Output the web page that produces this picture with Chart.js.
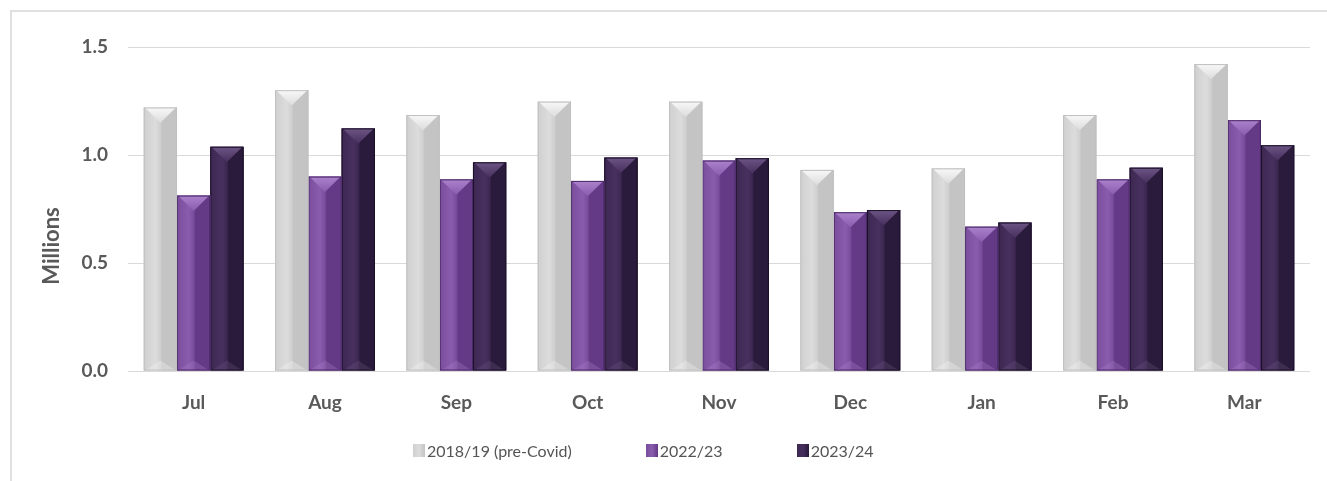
<!DOCTYPE html>
<html>
<head>
<meta charset="utf-8">
<script src="https://cdn.jsdelivr.net/npm/chart.js@4/dist/chart.umd.min.js"></script>
<style>
  html, body { margin: 0; padding: 0; background: #fff; }
  #wrap { position: relative; width: 1327px; height: 481px; overflow: hidden; }
  #frame {
    position: absolute; left: 10px; top: 10px; right: 0; bottom: 0;
    border-top: 2px solid #e0e0e0; border-left: 2px solid #e0e0e0;
  }
  #box { position: absolute; left: 0; top: 0; width: 1327px; height: 481px; }
  #legend {
    position: absolute; left: 413px; top: 441px; display: flex; gap: 74px;
    font-family: Lato, sans-serif; font-size: 16px; color: #555;
  }
  #legend .item { display: flex; align-items: center; }
  #legend .sw { width: 12px; height: 13px; margin-right: 2px; }
</style>
</head>
<body>
<div id="wrap">
  <div id="frame"></div>
  <div id="box"><canvas id="chart-trips"></canvas></div>
  <div id="legend"></div>
</div>
<script>
Chart.defaults.font.family = "Lato, sans-serif";
Chart.defaults.color = "#595959";

var months = ["Jul", "Aug", "Sep", "Oct", "Nov", "Dec", "Jan", "Feb", "Mar"];
var preCovid = [1.22, 1.30, 1.185, 1.247, 1.247, 0.931, 0.938, 1.185, 1.421];
var year2223 = [0.812, 0.900, 0.887, 0.880, 0.974, 0.735, 0.668, 0.887, 1.161];
var year2324 = [1.038, 1.123, 0.966, 0.988, 0.985, 0.745, 0.687, 0.941, 1.045];
var yTicks = [0, 0.5, 1.0, 1.5];

// shading for the bevelled bars: left, highlight, right, top facet, outline
var shades = [
  { left: "#d0d0d0", mid: "#dcdcdc", right: "#c4c4c4", cap: "#f8f8f8", edge: "#c0c0c0" },
  { left: "#7a4d9c", mid: "#8a5cae", right: "#643a86", cap: "#ab82cc", edge: "#4a2a66" },
  { left: "#3d2852", mid: "#47305e", right: "#2a1a3b", cap: "#6c5584", edge: "#1c1028" },
];

var bevelBars = {
  id: "bevelBars",
  afterDatasetDraw: function (chart, args) {
    var ctx = chart.ctx;
    var s = shades[args.index];
    args.meta.data.forEach(function (bar) {
      var w = bar.width, l = bar.x - w / 2, r = bar.x + w / 2;
      var top = bar.y, base = bar.base;
      ctx.save();
      var g = ctx.createLinearGradient(l, 0, r, 0);
      g.addColorStop(0, s.left);
      g.addColorStop(0.35, s.mid);
      g.addColorStop(0.5, s.left);
      g.addColorStop(0.55, s.right);
      g.addColorStop(1, s.right);
      ctx.fillStyle = g;
      ctx.fillRect(l, top, w, base - top);
      // top facet
      var cg = ctx.createLinearGradient(0, top, 0, top + w * 0.46);
      cg.addColorStop(0, s.cap);
      cg.addColorStop(1, s.mid);
      ctx.fillStyle = cg;
      ctx.beginPath();
      ctx.moveTo(l + 1, top);
      ctx.lineTo(r - 1, top);
      ctx.lineTo(bar.x, top + w * 0.46);
      ctx.closePath();
      ctx.fill();
      // faint bottom facet
      ctx.fillStyle = s.cap;
      ctx.globalAlpha = 0.3;
      ctx.beginPath();
      ctx.moveTo(l + 1, base);
      ctx.lineTo(r - 1, base);
      ctx.lineTo(bar.x, base - w * 0.3);
      ctx.closePath();
      ctx.fill();
      ctx.globalAlpha = 1;
      ctx.strokeStyle = s.edge;
      ctx.lineWidth = 1;
      ctx.strokeRect(l + 0.5, top + 0.5, w - 1, base - top - 1);
      ctx.restore();
    });
  },
};

var yTitle = {
  id: "yTitle",
  afterDraw: function (chart) {
    var ctx = chart.ctx;
    ctx.save();
    ctx.translate(52, 246);
    ctx.rotate(-Math.PI / 2);
    ctx.font = "bold 22px Lato, sans-serif";
    ctx.fillStyle = "#595959";
    ctx.textAlign = "center";
    ctx.textBaseline = "middle";
    ctx.fillText("Millions", 0, 0);
    ctx.restore();
  },
};

var tripsData = {
  labels: months,
  datasets: [
    { label: "2018/19 (pre-Covid)", data: preCovid, backgroundColor: "#cccccc" },
    { label: "2022/23", data: year2223, backgroundColor: "#74489a" },
    { label: "2023/24", data: year2324, backgroundColor: "#36234a" },
  ],
};

var tripsOptions = {
  responsive: true,
  maintainAspectRatio: false,
  animation: false,
  layout: { padding: { top: 47, right: 17, bottom: 0, left: 0 } },
  datasets: { bar: { categoryPercentage: 0.76, barPercentage: 1.0 } },
  plugins: {
    legend: { display: false },
    tooltip: { enabled: false },
  },
  scales: {
    y: {
      min: 0,
      max: 1.5,
      afterFit: function (scale) { scale.width = 128; },
      afterBuildTicks: function (scale) {
        scale.ticks = yTicks.map(function (v) { return { value: v }; });
      },
      border: { display: false },
      grid: { color: "#d9d9d9", drawTicks: false },
      ticks: {
        padding: 20,
        font: { size: 19, weight: "bold" },
        callback: function (v) { return Number(v).toFixed(1); },
      },
    },
    x: {
      afterFit: function (scale) { scale.height = 110; },
      border: { display: false },
      grid: { display: false, drawTicks: false },
      ticks: { padding: 20, font: { size: 19, weight: "bold" } },
    },
  },
};

var chart = new Chart("chart-trips", {
  type: "bar",
  data: tripsData,
  options: tripsOptions,
  plugins: [bevelBars, yTitle],
});

// legend built from the datasets
var legend = document.getElementById("legend");
tripsData.datasets.forEach(function (ds, i) {
  var item = document.createElement("div");
  item.className = "item";
  var sw = document.createElement("span");
  sw.className = "sw";
  sw.style.background = "linear-gradient(90deg," + shades[i].left + "," + shades[i].mid + "," + shades[i].right + ")";
  var txt = document.createElement("span");
  txt.textContent = ds.label;
  item.appendChild(sw);
  item.appendChild(txt);
  legend.appendChild(item);
});
</script>
</body>
</html>
